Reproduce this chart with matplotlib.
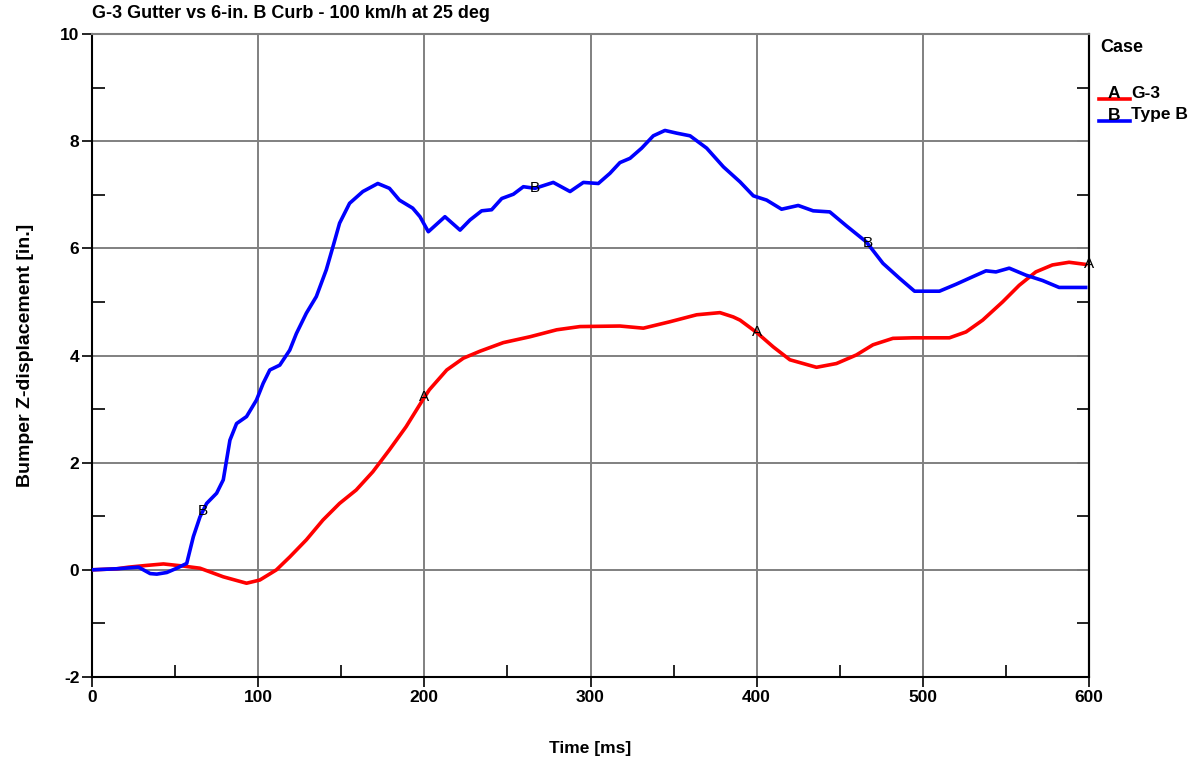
import matplotlib
matplotlib.use("Agg")
import matplotlib.pyplot as plt
from matplotlib.lines import Line2D
from matplotlib.ticker import MultipleLocator
import numpy as np

plt.rcParams['font.family'] = ['Liberation Sans', 'DejaVu Sans']
plt.rcParams['font.weight'] = 'bold'
plt.rcParams['axes.unicode_minus'] = False

# G-3 gutter (case A)
t_a = [0, 15, 22, 32, 43, 55, 65, 79, 93, 101, 111, 119, 129, 139, 149, 159, 169, 179, 189,
       199, 203, 213.5, 223.5, 233.5, 247.5, 263.6, 279.7, 293.7, 317.7, 331.8, 347.8, 363.9,
       377.9, 385.9, 390, 400, 410, 420, 436, 448, 460, 470, 482, 494, 516, 526, 536, 548,
       558, 568, 578, 588, 598]
y_a = [0, 0.02, 0.05, 0.08, 0.11, 0.07, 0.03, -0.13, -0.25, -0.19, 0.0, 0.24, 0.56, 0.93,
       1.24, 1.49, 1.83, 2.24, 2.67, 3.17, 3.36, 3.73, 3.95, 4.08, 4.24, 4.35, 4.48, 4.54,
       4.55, 4.51, 4.63, 4.76, 4.80, 4.72, 4.66, 4.43, 4.16, 3.92, 3.78, 3.85, 4.01, 4.20,
       4.32, 4.33, 4.33, 4.44, 4.66, 5.00, 5.31, 5.56, 5.69, 5.74, 5.70]

# 6-in. type B curb (case B)
t_b = [0, 15, 28, 35, 39, 45, 51, 57, 61, 65, 69, 75, 79, 81, 83, 87, 93, 99, 103, 107, 113,
       119, 123, 129, 135, 141, 145, 149, 155, 163, 172, 179, 185, 193, 197.4, 202.4, 212.4,
       221.5, 227.5, 234.5, 240.5, 246.6, 253.6, 259.6, 266.6, 277.6, 287.7, 295.7, 304.7,
       311.7, 317.7, 323.8, 330.8, 337.8, 344.8, 351.8, 359.9, 369.9, 380, 390, 398, 406,
       415, 425, 434, 444, 454, 466, 476, 486, 495, 510, 520, 530, 538, 544, 552, 562, 572,
       582, 598]
y_b = [0, 0.02, 0.05, -0.07, -0.08, -0.05, 0.03, 0.12, 0.62, 0.99, 1.24, 1.43, 1.68, 2.05,
       2.42, 2.73, 2.86, 3.17, 3.48, 3.73, 3.82, 4.10, 4.41, 4.79, 5.10, 5.60, 6.03, 6.47,
       6.84, 7.06, 7.21, 7.12, 6.90, 6.75, 6.59, 6.31, 6.59, 6.34, 6.53, 6.70, 6.72, 6.93,
       7.01, 7.15, 7.12, 7.23, 7.06, 7.23, 7.21, 7.40, 7.60, 7.68, 7.87, 8.10, 8.20, 8.15,
       8.10, 7.87, 7.52, 7.24, 6.98, 6.90, 6.73, 6.80, 6.70, 6.68, 6.42, 6.12, 5.72, 5.44,
       5.20, 5.20, 5.33, 5.47, 5.58, 5.56, 5.63, 5.50, 5.40, 5.27, 5.27]

marks_a = [200, 400, 600]
marks_b = [66.7, 266.7, 466.7]

fig = plt.figure(figsize=(12.04, 7.68), dpi=100)
ax = fig.add_axes([92 / 1204, 91 / 768, 997 / 1204, 643 / 768])

ax.plot(t_a, y_a, color='#ff0000', lw=2.6, zorder=3)
ax.plot(t_b, y_b, color='#0000ff', lw=2.6, zorder=4)

for tm in marks_a:
    ax.text(tm, np.interp(tm, t_a, y_a), 'A', ha='center', va='center', fontsize=11,
            fontweight='normal', zorder=5)
for tm in marks_b:
    ax.text(tm, np.interp(tm, t_b, y_b), 'B', ha='center', va='center', fontsize=11,
            fontweight='normal', zorder=5)

ax.set_xlim(0, 600)
ax.set_ylim(-2, 10)
ax.xaxis.set_major_locator(MultipleLocator(100))
ax.xaxis.set_minor_locator(MultipleLocator(50))
ax.yaxis.set_major_locator(MultipleLocator(2))
ax.yaxis.set_minor_locator(MultipleLocator(1))
ax.tick_params(which='major', direction='out', length=7, width=1.2, labelsize=12.5, pad=2)
ax.tick_params(which='minor', direction='in', length=9, width=1.2)
ax.grid(True, which='major', color='#808080', lw=1.4)
for s in ax.spines.values():
    s.set_linewidth(1.5)
ax.spines['top'].set_color('#808080')

# inward ticks on the right edge
sec = ax.secondary_yaxis('right')
sec.yaxis.set_major_locator(MultipleLocator(2))
sec.yaxis.set_minor_locator(MultipleLocator(1))
sec.tick_params(which='both', direction='in', length=9, width=1.2, labelright=False)
sec.spines['right'].set_linewidth(1.5)

ax.set_xlabel('Time [ms]', fontsize=12.5, fontweight='bold', labelpad=26)
ax.set_ylabel('Bumper Z-displacement [in.]', fontsize=14, fontweight='bold', labelpad=19)
fig.text(92 / 1204, 1 - 13 / 768, 'G-3 Gutter vs 6-in. B Curb - 100 km/h at 25 deg',
         ha='left', va='center', fontsize=13, fontweight='bold')

# legend
fig.text(1100 / 1204, 1 - 48 / 768, 'Case', ha='left', va='center', fontsize=13,
         fontweight='bold')
for yy, col, key, name in [(99, '#ff0000', 'A', 'G-3'), (121, '#0000ff', 'B', 'Type B')]:
    fig.add_artist(Line2D([1099 / 1204, 1130 / 1204], [1 - yy / 768, 1 - yy / 768],
                          color=col, lw=2.6))
    fig.text(1114 / 1204, 1 - (yy - 6) / 768, key, ha='center', va='center', fontsize=12.5,
             fontweight='bold')
    fig.text(1131 / 1204, 1 - (yy - 6) / 768, name, ha='left', va='center', fontsize=12.5,
             fontweight='bold')

fig.savefig('out.png', dpi=100)
